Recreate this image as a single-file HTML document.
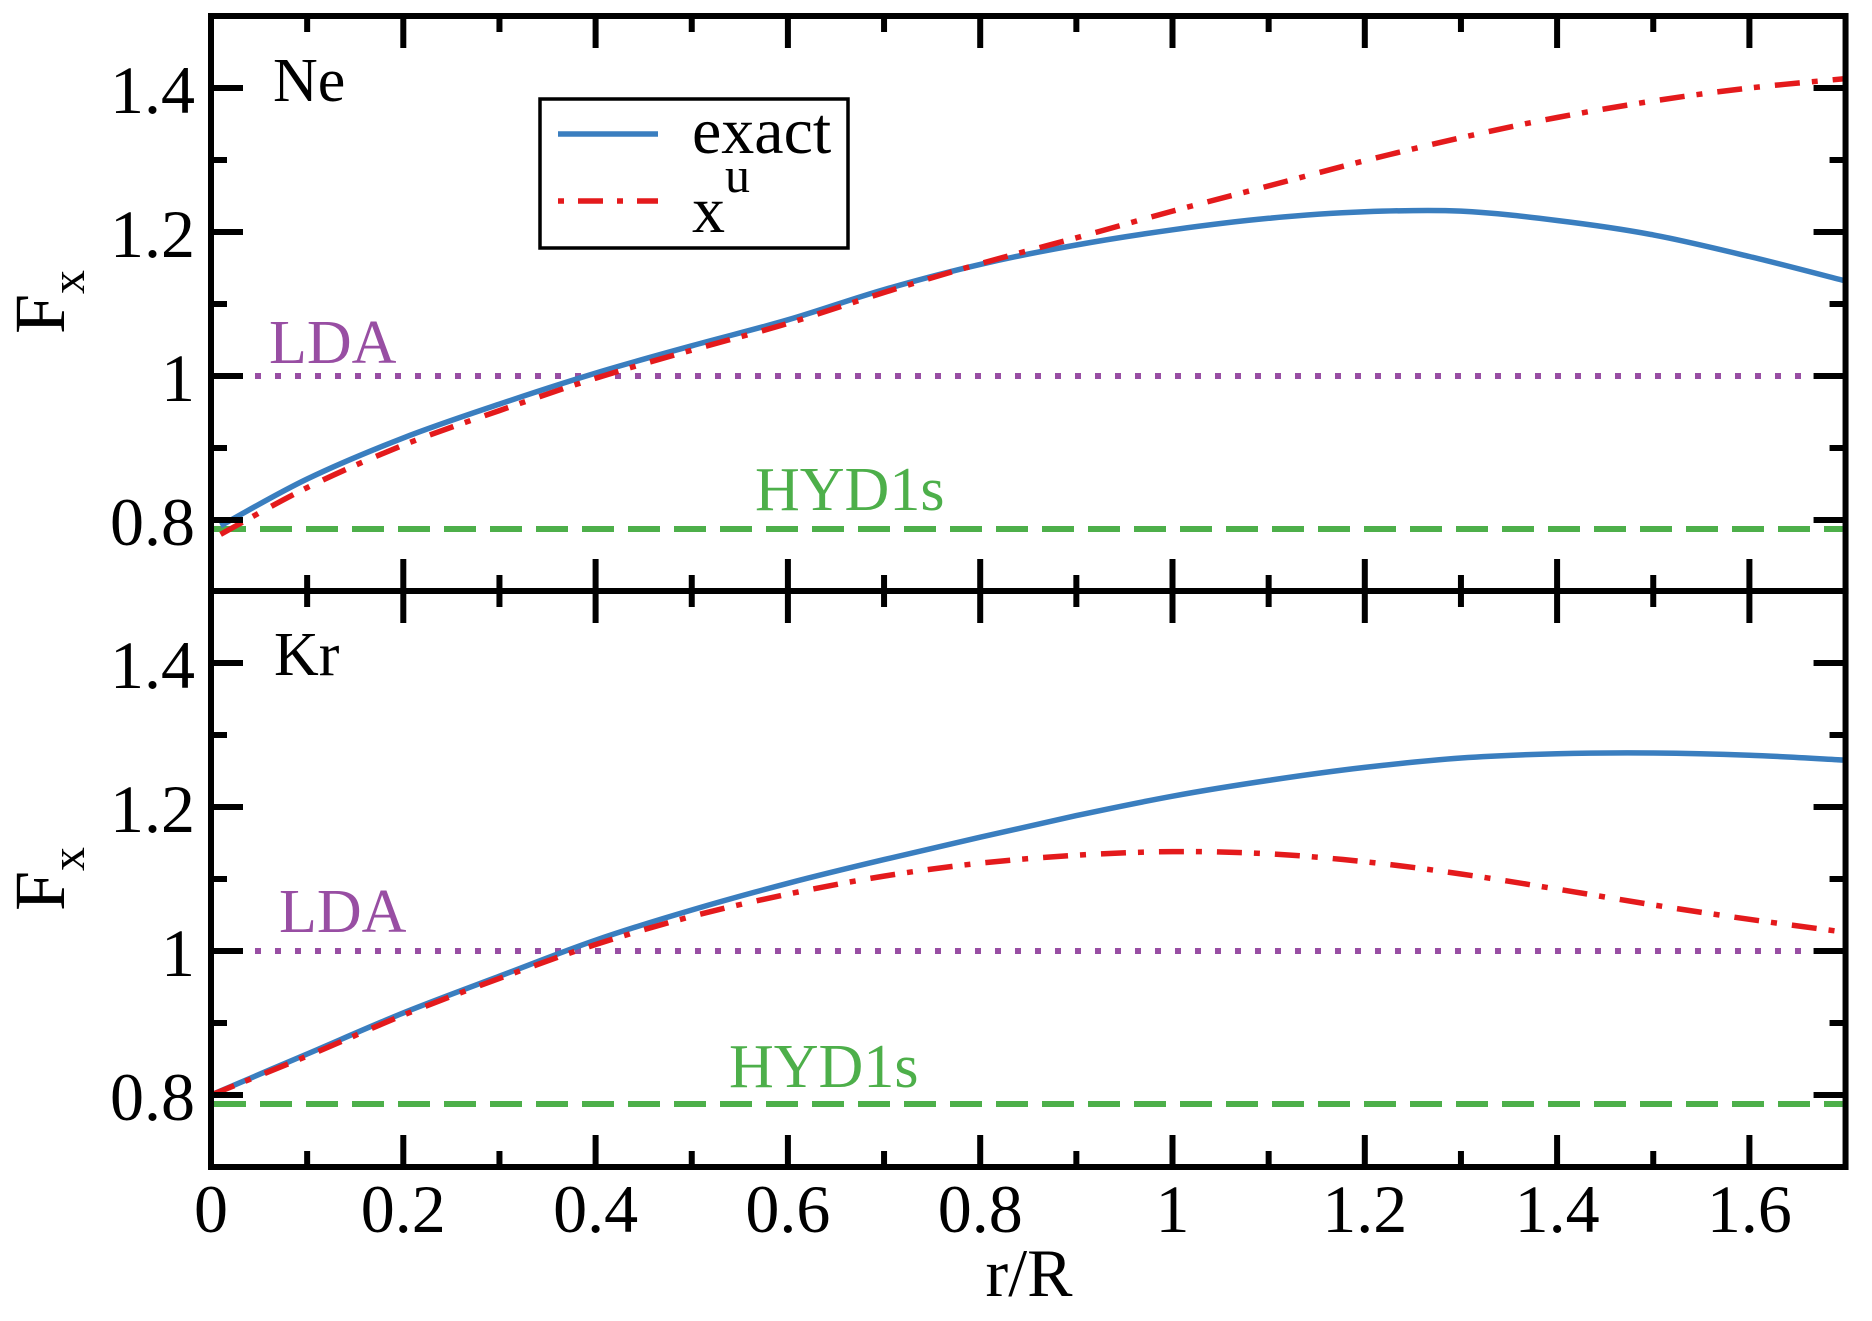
<!DOCTYPE html>
<html><head><meta charset="utf-8"><style>
html,body{margin:0;padding:0;background:#fff;}
svg{display:block;font-family:"Liberation Serif",serif;}
</style></head><body>
<svg id="chart" width="1872" height="1321" viewBox="0 0 1872 1321" xmlns="http://www.w3.org/2000/svg"></svg>
<script>
// ---- data ----
const xTicks = [0, 0.2, 0.4, 0.6, 0.8, 1, 1.2, 1.4, 1.6];
const xTickLabels = ["0", "0.2", "0.4", "0.6", "0.8", "1", "1.2", "1.4", "1.6"];
const yTicks = [0.8, 1.0, 1.2, 1.4];
const yTickLabels = ["0.8", "1", "1.2", "1.4"];
const ldaValue = 1.0;
const hydValue = 0.7875;
const neR = [0.01, 0.1, 0.2, 0.3, 0.4, 0.5, 0.6, 0.7, 0.8, 0.9, 1.0, 1.1, 1.2, 1.3, 1.4, 1.5, 1.6, 1.7];
const neExact = [0.792, 0.857, 0.914, 0.961, 1.004, 1.042, 1.078, 1.12, 1.155, 1.182, 1.203, 1.219, 1.228, 1.229, 1.216, 1.196, 1.166, 1.132];
const neXu = [0.78, 0.845, 0.904, 0.952, 0.997, 1.036, 1.073, 1.116, 1.156, 1.192, 1.229, 1.264, 1.299, 1.331, 1.359, 1.382, 1.4, 1.413];
const krR = [0.0, 0.1, 0.2, 0.3, 0.4, 0.5, 0.6, 0.7, 0.8, 0.9, 1.0, 1.1, 1.2, 1.3, 1.4, 1.5, 1.6, 1.7];
const krExact = [0.8, 0.857, 0.914, 0.965, 1.015, 1.057, 1.094, 1.127, 1.158, 1.188, 1.215, 1.237, 1.255, 1.268, 1.274, 1.275, 1.272, 1.265];
const krXu = [0.8, 0.854, 0.911, 0.962, 1.009, 1.048, 1.079, 1.104, 1.122, 1.133, 1.138, 1.135, 1.124, 1.107, 1.086, 1.064, 1.044, 1.026];

const NS = "http://www.w3.org/2000/svg";
const svg = document.getElementById('chart');
const X0 = 211, XS = 961.5;
function xs(r){ return X0 + r*XS; }
function mk(tag, attrs, parent){
  const e = document.createElementNS(NS, tag);
  for (const k in attrs) e.setAttribute(k, attrs[k]);
  (parent||svg).appendChild(e);
  return e;
}
function txt(s, x, y, size, color, anchor, parent){
  const t = mk('text', {x:x, y:y, 'font-size':size, fill:color||'#000', 'text-anchor':anchor||'start'}, parent);
  t.textContent = s;
  return t;
}
function pathD(R, V, ys){
  const P = R.map((r,i)=>[xs(r), ys(V[i])]);
  let d = 'M'+P[0][0].toFixed(1)+','+P[0][1].toFixed(1);
  for (let i=0;i<P.length-1;i++){
    const p0 = P[Math.max(0,i-1)], p1 = P[i], p2 = P[i+1], p3 = P[Math.min(P.length-1,i+2)];
    const c1x = p1[0]+(p2[0]-p0[0])/6, c1y = p1[1]+(p2[1]-p0[1])/6;
    const c2x = p2[0]-(p3[0]-p1[0])/6, c2y = p2[1]-(p3[1]-p1[1])/6;
    d += ' C'+c1x.toFixed(1)+','+c1y.toFixed(1)+' '+c2x.toFixed(1)+','+c2y.toFixed(1)+' '+p2[0].toFixed(1)+','+p2[1].toFixed(1);
  }
  return d;
}
const panels = [
  {name:'ne', y08:520, top:16, bot:591, R:neR, ex:neExact, xu:neXu, label:'Ne', lx:273, ly:101,
   lda:[269,363], hyd:[755,510], fx:[64,334]},
  {name:'kr', y08:1095, top:591, bot:1167, R:krR, ex:krExact, xu:krXu, label:'Kr', lx:274, ly:675,
   lda:[279,932], hyd:[729,1087], fx:[64,911]}
];
const XR = xs(1.7);
panels.forEach(p=>{
  const g = mk('g', {});
  
  
  const ys = v => p.y08 - (v-0.8)*720;
  const lda = mk('line', {x1:X0+4, x2:XR-4, y1:ys(ldaValue), y2:ys(ldaValue), stroke:'#984EA3', 'stroke-width':6, 'stroke-dasharray':'6 14'}, g);
  
  
  const hyd = mk('line', {x1:X0+3, x2:XR-3, y1:ys(hydValue), y2:ys(hydValue), stroke:'#4DAF4A', 'stroke-width':6, 'stroke-dasharray':'32 14'}, g);
  
  
  const cex = mk('path', {d:pathD(p.R, p.ex, ys), fill:'none', stroke:'#3A7EBF', 'stroke-width':5.5, 'stroke-linejoin':'round'}, g);
  
  
  const cxu = mk('path', {d:pathD(p.R, p.xu, ys), fill:'none', stroke:'#E41A1C', 'stroke-width':5.5, 'stroke-dasharray':'25 12 6 15'}, g);
  
  
  const fr = mk('rect', {x:X0, y:p.top, width:XR-X0, height:p.bot-p.top, fill:'none', stroke:'#000', 'stroke-width':6}, g);
  
  
  for (let i=1;i<=16;i++){
    const r = i*0.1, x = xs(r), L = (i%2===0)?32:16;
    mk('line', {x1:x, x2:x, y1:p.top, y2:p.top+L, stroke:'#000', 'stroke-width':6}, g);
    mk('line', {x1:x, x2:x, y1:p.bot, y2:p.bot-L, stroke:'#000', 'stroke-width':6}, g);
  }
  [0.8,0.9,1.0,1.1,1.2,1.3,1.4].forEach((v,i)=>{
    const y = ys(v), L = (i%2===0)?32:16;
    mk('line', {x1:X0, x2:X0+L, y1:y, y2:y, stroke:'#000', 'stroke-width':6}, g);
    mk('line', {x1:XR, x2:XR-L, y1:y, y2:y, stroke:'#000', 'stroke-width':6}, g);
  });
  yTicks.forEach((v,i)=>{
    const t = txt(yTickLabels[i], 195, ys(v)+25, 68, '#000', 'end', g);
    
    
  });
  const nl = txt(p.label, p.lx, p.ly, 62, '#000', 'start', g);
  
  
  const ll = txt('LDA', p.lda[0], p.lda[1], 62, '#984EA3', 'start', g);
  
  
  const hl = txt('HYD1s', p.hyd[0], p.hyd[1], 62, '#4DAF4A', 'start', g);
  
  
  const yt = mk('text', {transform:'translate('+p.fx[0]+','+p.fx[1]+') rotate(-90)', 'font-size':72, fill:'#000'}, g);
  
  
  yt.appendChild(document.createTextNode('F'));
  const sub = mk('tspan', {'font-size':48, dy:20}, yt);
  sub.textContent = 'x';
});
xTicks.forEach((r,i)=>{
  const t = txt(xTickLabels[i], xs(r), 1232, 68, '#000', 'middle');
  
  
});
const xt = txt('r/R', 1029, 1296, 68, '#000', 'middle');


const lg = mk('g', {});


mk('rect', {x:540, y:99, width:308, height:149, fill:'#fff', stroke:'#000', 'stroke-width':3.5}, lg);
const le1 = mk('line', {x1:558, x2:658, y1:134, y2:134, stroke:'#3A7EBF', 'stroke-width':5.5}, lg);


const le2 = mk('line', {x1:558, x2:658, y1:201, y2:201, stroke:'#E41A1C', 'stroke-width':5.5, 'stroke-dasharray':'6 14 25 14'}, lg);


const lt1 = txt('exact', 692, 153, 66, '#000', 'start', lg);


const lt2 = txt('x', 692, 232, 66, '#000', 'start', lg);


const lt3 = txt('u', 725, 192, 50, '#000', 'start', lg);


</script>
</body></html>
